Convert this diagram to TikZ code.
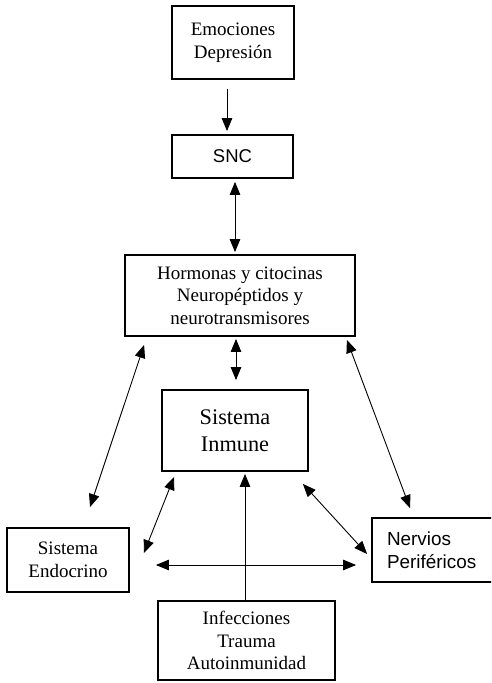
\documentclass[tikz,border=0pt]{standalone}
\usepackage{fontspec}
\setmainfont{Liberation Serif}
\setsansfont{Liberation Sans}
\usetikzlibrary{arrows.meta,calc}
\begin{document}
\begin{tikzpicture}[x=1pt,y=-1pt,
  box/.style={draw,line width=1.8pt,inner sep=0pt,align=center,font=\fontsize{19}{22.5}\selectfont},
  conn/.style={line width=0.9pt,-{Triangle[length=13pt,width=10.5pt]}},
  biconn/.style={line width=0.9pt,{Triangle[length=13pt,width=10.5pt]}-{Triangle[length=13pt,width=10.5pt]}}]
\useasboundingbox (0,0) rectangle (491,683);
\clip (0,0) rectangle (491,683);
\node[box,minimum width=122pt,minimum height=73pt] (emo) at (233,42.5) {Emociones\\Depresión};
\node[box,minimum width=121pt,minimum height=43pt,font=\sffamily\fontsize{18.5}{22}\selectfont] (snc) at (232.5,156.5) {SNC};
\node[box,minimum width=230pt,minimum height=81pt] (horm) at (240,295.5) {Hormonas y citocinas\\Neuropéptidos y\\neurotransmisores};
\node[box,minimum width=146pt,minimum height=81pt,font=\fontsize{22.3}{27}\selectfont] (inm) at (235,430.5) {Sistema\\Inmune};
\node[box,minimum width=122pt,minimum height=64pt] (endo) at (68,560) {Sistema\\Endocrino};
\node[box,minimum width=128pt,minimum height=64pt,align=left,text width=98pt,font=\sffamily\fontsize{18.9}{23}\selectfont] (nerv) at (436,550) {Nervios\\Periféricos};
\node[box,minimum width=177pt,minimum height=79pt] (inf) at (246.5,640.5) {Infecciones\\Trauma\\Autoinmunidad};
% connectors
\draw[conn] ($(emo.south)+(-6,9)$) -- ($(snc.north)+(-5.5,-3)$);
\draw[biconn] ($(snc.south)+(2.5,3)$) -- ($(horm.north)+(-5,-2)$);
\draw[biconn] ($(horm.south)+(-4,2)$) -- ($(inm.north)+(1,-9)$);
\draw[biconn] ($(horm.south west)+(20,8)$) -- ($(endo.north)+(22,-20)$);
\draw[biconn] ($(horm.south east)+(-9,3)$) -- ($(nerv.north)+(-26,-9)$);
\draw[biconn] ($(endo.east)+(14,-7)$) -- ($(inm.south west)+(13,5)$);
\draw[biconn] ($(nerv.west)+(-4,4)$) -- ($(inm.south east)+(-6,12)$);
\draw[biconn] ($(endo.east)+(26,5)$) -- ($(nerv.west)+(-15,15)$);
\draw[conn] ($(inf.north)+(-1.5,0)$) -- ($(inm.south)+(10,2)$);
\end{tikzpicture}
\end{document}
